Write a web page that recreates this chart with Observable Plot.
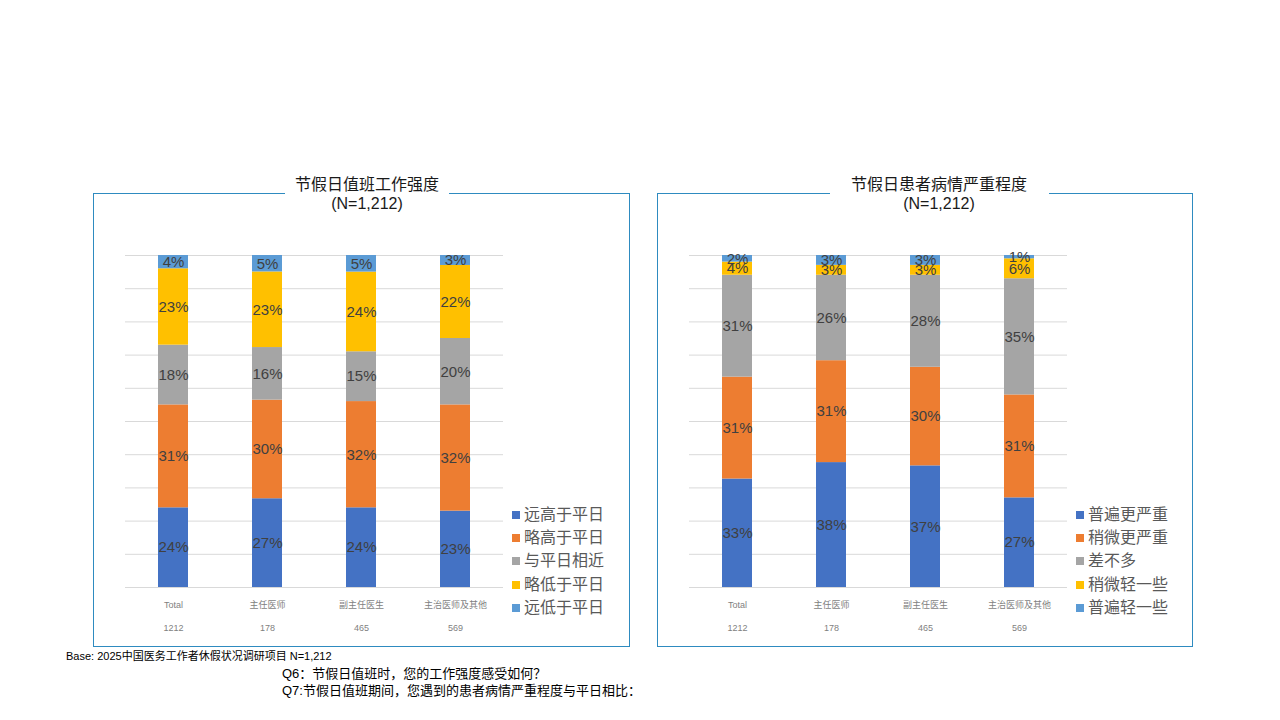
<!DOCTYPE html>
<html>
<head>
<meta charset="utf-8">
<script src="https://cdn.jsdelivr.net/npm/d3@7"></script>
<script src="https://cdn.jsdelivr.net/npm/@observablehq/plot@0.6"></script>
<style>
  body { margin: 0; background: #fff; }
  #page { position: relative; width: 1280px; height: 720px; overflow: hidden; background: #fff;
    font-family: "Liberation Sans", Arial, "Noto Sans CJK SC", sans-serif; }
  .box { position: absolute; border: 1px solid #2E8BC0; box-sizing: border-box; }
  .title { position: absolute; background: #fff; text-align: center; font-size: 16px; color: #1a1a1a; line-height: 19px; }
  .plot { position: absolute; }
  .legend { position: absolute; font-size: 16px; color: #595959; }
  .legend div { height: 23.2px; line-height: 23px; white-space: nowrap; }
  .legend span.sw { display: inline-block; width: 8px; height: 8px; margin-right: 4px; vertical-align: 1px; }
  .note { position: absolute; white-space: nowrap; color: #000; }
</style>
</head>
<body>
<div id="page"></div>
<script>
// ---- data ----
const categories = ["Total", "主任医师", "副主任医生", "主治医师及其他"];
const counts = [1212, 178, 465, 569];

const workSeries = ["远高于平日", "略高于平日", "与平日相近", "略低于平日", "远低于平日"];
const workMuchHigher = [24, 27, 24, 23];
const workSlightlyHigher = [31, 30, 32, 32];
const workSimilar = [18, 16, 15, 20];
const workSlightlyLower = [23, 23, 24, 22];
const workMuchLower = [4, 5, 5, 3];

const sevSeries = ["普遍更严重", "稍微更严重", "差不多", "稍微轻一些", "普遍轻一些"];
const sevMuchWorse = [33, 38, 37, 27];
const sevSlightlyWorse = [31, 31, 30, 31];
const sevSimilar = [31, 26, 28, 35];
const sevSlightlyMilder = [4, 3, 3, 6];
const sevMuchMilder = [2, 3, 3, 1];

const seriesColors = ["#4472C4", "#ED7D31", "#A5A5A5", "#FFC000", "#5B9BD5"];

function tidy(seriesNames, arrays) {
  const out = [];
  seriesNames.forEach((s, si) => {
    categories.forEach((c, ci) => out.push({cat: c, series: s, value: arrays[si][ci]}));
  });
  return out;
}
const workData = tidy(workSeries, [workMuchHigher, workSlightlyHigher, workSimilar, workSlightlyLower, workMuchLower]);
const sevData = tidy(sevSeries, [sevMuchWorse, sevSlightlyWorse, sevSimilar, sevSlightlyMilder, sevMuchMilder]);

const page = document.getElementById("page");
function add(html) { page.insertAdjacentHTML("beforeend", html); }

function makeChart(data, seriesNames) {
  return Plot.plot({
    width: 420,
    height: 400,
    marginLeft: 32,
    marginRight: 10,
    marginTop: 15,
    marginBottom: 53,
    style: {fontFamily: '"Liberation Sans", Arial, "Noto Sans CJK SC", sans-serif', background: "transparent"},
    x: {domain: categories, paddingInner: 0.68, paddingOuter: 0.34, label: null},
    y: {domain: [0, 1], axis: null},
    color: {domain: seriesNames, range: seriesColors},
    marks: [
      Plot.gridY({ticks: 10, stroke: "#d9d9d9", strokeOpacity: 1}),
      Plot.barY(data, {x: "cat", y: "value", fill: "series", order: seriesNames, offset: "normalize"}),
      Plot.text(data, Plot.stackY({
        x: "cat", y: "value", z: "series", order: seriesNames, offset: "normalize",
        text: d => d.value + "%", fill: "#404040", fontSize: 15
      })),
      Plot.axisX({
        tickSize: 0, tickPadding: 4, fontSize: 9, lineHeight: 2.55, fill: "#7f7f7f",
        tickFormat: d => d + "\n" + counts[categories.indexOf(d)], label: null
      })
    ]
  });
}

function panel(boxLeft, boxRight, titleCenter, titleGap, title, data, seriesNames, plotLeft, legendLeft) {
  add(`<div class="box" style="left:${boxLeft}px;top:193px;width:${boxRight - boxLeft}px;height:454px"></div>`);
  add(`<div class="title" style="left:${titleCenter - titleGap / 2}px;top:175px;width:${titleGap}px">${title}<br>(N=1,212)</div>`);
  const chart = makeChart(data, seriesNames);
  const holder = document.createElement("div");
  holder.className = "plot";
  holder.style.left = plotLeft + "px";
  holder.style.top = "240px";
  holder.appendChild(chart);
  page.appendChild(holder);
  const items = seriesNames.map((s, i) =>
    `<div><span class="sw" style="background:${seriesColors[i]}"></span>${s}</div>`).join("");
  add(`<div class="legend" style="left:${legendLeft}px;top:503px">${items}</div>`);
}

panel(93, 630, 367, 164, "节假日值班工作强度", workData, workSeries, 93, 512);
panel(657, 1193, 939, 219, "节假日患者病情严重程度", sevData, sevSeries, 657, 1076);

add(`<div class="note" style="left:66px;top:647px;font-size:11px">Base: 2025中国医务工作者休假状况调研项目 N=1,212</div>`);
add(`<div class="note" style="left:282px;top:665px;font-size:13px;line-height:17px">Q6：节假日值班时，您的工作强度感受如何？<br>Q7:节假日值班期间，您遇到的患者病情严重程度与平日相比：</div>`);
</script>
</body>
</html>
